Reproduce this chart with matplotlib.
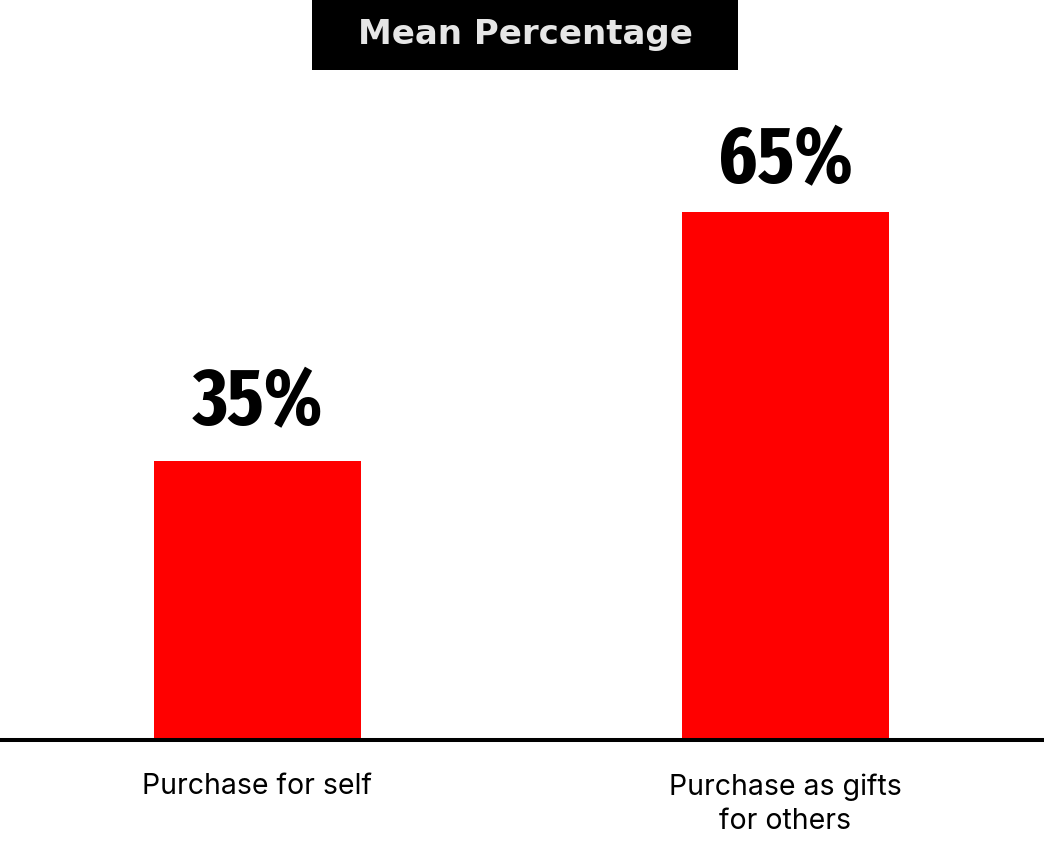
import os
import matplotlib
matplotlib.use("Agg")
import matplotlib.pyplot as plt
from matplotlib import font_manager
from matplotlib.font_manager import FontProperties
from matplotlib.patches import Rectangle

# ==========================================
# Data
# ==========================================

categories = ["Purchase for self", "Purchase as gifts\nfor others"]
mean_pct = [34.6, 65.4]
title_text = "Mean Percentage"

# ==========================================
# Fonts (look for a narrow / condensed bold face)
# ==========================================

installed = {f.name for f in font_manager.fontManager.ttflist}
label_font = "Inter" if "Inter" in installed else "DejaVu Sans"


def narrow_score(f):
    fn = os.path.basename(f.fname).lower().replace("-", "").replace("_", "")
    st = str(f.stretch).lower()
    s = 0
    if "extracondensed" in fn or "extra-condensed" in st:
        s += 30
    elif "condensed" in fn or "narrow" in fn or "condensed" in st:
        s += 20
    else:
        return -1
    if "italic" in fn or "oblique" in fn:
        return -1
    if "extrabold" in fn or "black" in fn:
        s += 8
    elif "bold" in fn:
        s += 10
    elif "semibold" in fn:
        s += 5
    return s


cands = sorted(font_manager.fontManager.ttflist, key=narrow_score, reverse=True)
if cands and narrow_score(cands[0]) > 0:
    value_fp = FontProperties(fname=cands[0].fname, size=58)
else:
    value_fp = FontProperties(family="DejaVu Sans", weight="bold", size=50)

# ==========================================
# Figure
# ==========================================

W, H = 1044, 866
fig = plt.figure(figsize=(W / 100, H / 100), dpi=100)

base_px = 740
ax = fig.add_axes([0, (H - base_px) / H, 1, base_px / H])

px_per_unit = 528 / 65.4
ax.set_ylim(0, base_px / px_per_unit)

left = -257.5 / 528
ax.set_xlim(left, left + W / 528)

x = list(range(len(categories)))
bars = ax.bar(x, mean_pct, width=207 / 528, color="#ff0000")

for b, v in zip(bars, mean_pct):
    ax.annotate(
        f"{round(v)}%",
        xy=(b.get_x() + b.get_width() / 2, round(v)),
        xytext=(0, 23),
        textcoords="offset points",
        ha="center",
        va="baseline",
        fontproperties=value_fp,
        color="black",
    )

ax.set_xticks(x)
ax.set_xticklabels(categories, fontsize=20.5, family=label_font, linespacing=1.35)
ax.tick_params(axis="x", length=0, pad=24)
ax.set_yticks([])

for s in ["top", "left", "right"]:
    ax.spines[s].set_visible(False)
ax.spines["bottom"].set_linewidth(2.9)
ax.spines["bottom"].set_color("black")

# ==========================================
# Title box
# ==========================================

fig.patches.append(
    Rectangle(
        (312 / W, (H - 70) / H),
        426 / W,
        70 / H,
        transform=fig.transFigure,
        facecolor="black",
        edgecolor="none",
    )
)
fig.text(
    525 / W,
    (H - 44) / H,
    title_text,
    ha="center",
    va="baseline",
    fontsize=24.5,
    fontweight="bold",
    color="#e6e6e6",
    family="DejaVu Sans",
)

fig.savefig("out.png", dpi=100)
